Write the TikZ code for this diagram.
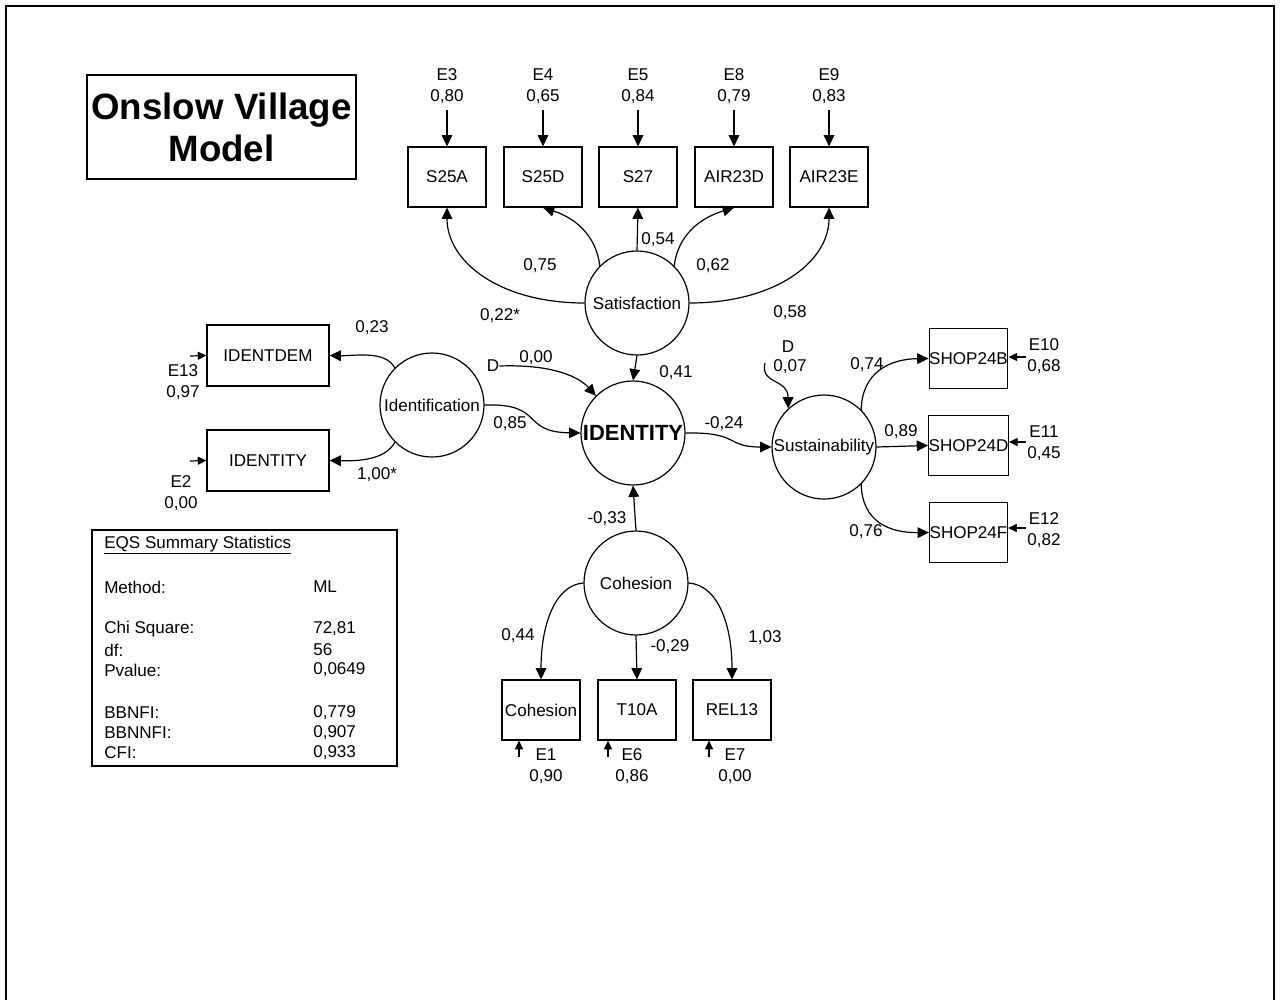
\documentclass[tikz,border=0pt]{standalone}
\usepackage{fontspec}
\setmainfont{Liberation Sans}
\usetikzlibrary{arrows.meta}
\begin{document}
\begin{tikzpicture}[x=0.75pt,y=-0.75pt,
 font=\fontsize{12.8}{15.5}\selectfont,
 lat/.style={circle,draw,line width=0.9pt,minimum size=78pt,inner sep=0pt},
 obs/.style={rectangle,draw,line width=0.9pt,minimum width=58.5pt,minimum height=45pt,inner sep=0pt},
 wide/.style={obs,minimum width=91.5pt,minimum height=45.75pt},
 lbl/.style={inner sep=0pt},
 err/.style={inner sep=0pt,align=center},
 arr/.style={draw,line width=0.9pt,-{Triangle[length=8.5pt,width=8pt]}},
 sarr/.style={draw,line width=0.9pt,-{Triangle[length=6.5pt,width=6pt]}},
 stat/.style={inner sep=0pt,anchor=west}
]
\useasboundingbox (0,0) rectangle (1280,1000);
% outer frame
\draw[line width=1.5pt] (6,1000) -- (6,6) -- (1274,6) -- (1274,1000);

% title
\node[draw,line width=0.9pt,minimum width=201.75pt,minimum height=78pt,inner sep=0pt,align=center,
  font=\fontsize{27.5}{31.5}\selectfont\bfseries] (title) at (221.5,127) {Onslow Village\\Model};

% Satisfaction block
\node[lat] (sat) at (637,303) {Satisfaction};
\node[obs] (s25a) at (447,177) {S25A};
\node[obs] (s25d) at (543,177) {S25D};
\node[obs] (s27) at (638,177) {S27};
\node[obs] (air23d) at (734,177) {AIR23D};
\node[obs] (air23e) at (829,177) {AIR23E};

\node[err] (e3) at (447,86) {E3\\0,80};
\node[err] (e4) at (543,86) {E4\\0,65};
\node[err] (e5) at (638,86) {E5\\0,84};
\node[err] (e8) at (734,86) {E8\\0,79};
\node[err] (e9) at (829,86) {E9\\0,83};
\coordinate (e3s) at (447,110);
\coordinate (e4s) at (543,110);
\coordinate (e5s) at (638,110);
\coordinate (e8s) at (734,110);
\coordinate (e9s) at (829,110);
\draw[arr] (e3s) -- (s25a.north);
\draw[arr] (e4s) -- (s25d.north);
\draw[arr] (e5s) -- (s27.north);
\draw[arr] (e8s) -- (air23d.north);
\draw[arr] (e9s) -- (air23e.north);

\draw[arr] (sat.west) .. controls (500,303) and (447,262) .. (s25a.south);
\draw[arr] (sat.135) .. controls (596,235) and (575,218) .. (s25d.south);
\draw[arr] (sat.north) -- (s27.south);
\draw[arr] (sat.45) .. controls (678,235) and (700,218) .. (air23d.south);
\draw[arr] (sat.east) .. controls (775,303) and (829,262) .. (air23e.south);

\node[lbl] at (540,266) {0,75};
\node[lbl] at (658,240) {0,54};
\node[lbl] at (713,266) {0,62};
\node[lbl] at (500,316) {0,22*};
\node[lbl] at (790,313) {0,58};

% IDENTITY
\node[lat,font=\fontsize{16.5}{18}\selectfont\bfseries] (ident) at (633,433) {IDENTITY};
\draw[arr] (sat.south) -- (ident.north);
\node[lbl] at (676,373) {0,41};

\node[lbl] (d1) at (493,366) {D};
\node[lbl] at (536,358) {0,00};
\draw[arr] (d1.east) .. controls (555,364) and (580,378) .. (ident.135);

% Identification
\node[lat] (idf) at (432,405) {Identification};
\node[wide] (identdem) at (268,355.5) {IDENTDEM};
\node[wide] (identity) at (268,460.5) {IDENTITY};
\draw[arr] (idf.east) .. controls (545,403) and (520,432) .. (ident.west);
\draw[arr] (idf.135) .. controls (385,350) and (355,356) .. (identdem.east);
\draw[arr] (idf.225) .. controls (385,461) and (355,461) .. (identity.east);
\node[lbl] at (510,424) {0,85};
\node[lbl] at (372,328) {0,23};
\node[lbl] at (377,475) {1,00*};

\coordinate (e13s) at (190,356);
\coordinate (e2s) at (190,461);
\draw[sarr] (e13s) -- (identdem.west);
\draw[sarr] (e2s) -- (identity.west);
\node[err] (e13) at (183,382) {E13\\0,97};
\node[err] (e2) at (181,493) {E2\\0,00};

% Sustainability
\node[lat] (sus) at (824,447) {Sustainability};
\draw[arr] (ident.east) .. controls (740,432) and (725,447) .. (sus.west);
\node[lbl] at (724,424) {-0,24};

\node[lbl] (d2) at (788,347) {D};
\node[lbl] at (790,367) {0,07};
\coordinate (d2s) at (765,363);
\draw[arr] (d2s) .. controls (760,385) and (788,378) .. (sus.133);

\node[obs] (shop24b) at (968.5,358.5) {SHOP24B};
\node[obs] (shop24d) at (968.5,445.5) {SHOP24D};
\node[obs] (shop24f) at (968.5,532.5) {SHOP24F};
\draw[arr] (sus.45) .. controls (862,372) and (890,359) .. (shop24b.west);
\draw[arr] (sus.east) -- (shop24d.west);
\draw[arr] (sus.-45) .. controls (862,522) and (890,533) .. (shop24f.west);
\node[lbl] at (867,365) {0,74};
\node[lbl] at (901,432) {0,89};
\node[lbl] at (866,532) {0,76};

\coordinate (e10s) at (1026,357);
\coordinate (e11s) at (1026,442);
\coordinate (e12s) at (1026,528);
\draw[sarr] (e10s) -- (e10s -| shop24b.east);
\draw[sarr] (e11s) -- (e11s -| shop24d.east);
\draw[sarr] (e12s) -- (e12s -| shop24f.east);
\node[err] (e10) at (1044,356) {E10\\0,68};
\node[err] (e11) at (1044,443) {E11\\0,45};
\node[err] (e12) at (1044,530) {E12\\0,82};

% Cohesion
\node[lat] (coh) at (636,583) {Cohesion};
\draw[arr] (coh.north) -- (ident.south);
\node[lbl] at (607,519) {-0,33};

\node[obs] (cohbox) at (541,710) {Cohesion};
\node[obs] (t10a) at (637,710) {T10A};
\node[obs] (rel13) at (732,710) {REL13};
\draw[arr] (coh.west) .. controls (555,585) and (541,625) .. (cohbox.north);
\draw[arr] (coh.south) -- (t10a.north);
\draw[arr] (coh.east) .. controls (718,585) and (732,625) .. (rel13.north);
\node[lbl] at (518,636) {0,44};
\node[lbl] at (670,647) {-0,29};
\node[lbl] at (765,638) {1,03};

\coordinate (e1s) at (519,757);
\coordinate (e6s) at (608,757);
\coordinate (e7s) at (709,757);
\draw[sarr] (e1s) -- (e1s |- cohbox.south);
\draw[sarr] (e6s) -- (e6s |- t10a.south);
\draw[sarr] (e7s) -- (e7s |- rel13.south);
\node[err] (e1) at (546,766) {E1\\0,90};
\node[err] (e6) at (632,766) {E6\\0,86};
\node[err] (e7) at (735,766) {E7\\0,00};

% EQS summary statistics
\node[draw,line width=0.9pt,minimum width=228.75pt,minimum height=177pt,inner sep=0pt] (eqs) at (244.5,648) {};
\node[stat] at (104,545) {\underline{EQS Summary Statistics}};
\node[stat] at (104,587) {Method:};
\node[stat] at (313,587) {ML};
\node[stat] at (104,629) {Chi Square:};
\node[stat] at (313,629) {72,81};
\node[stat] at (104,650) {df:};
\node[stat] at (313,650) {56};
\node[stat] at (104,670) {Pvalue:};
\node[stat] at (313,670) {0,0649};
\node[stat] at (104,713) {BBNFI:};
\node[stat] at (313,713) {0,779};
\node[stat] at (104,733) {BBNNFI:};
\node[stat] at (313,733) {0,907};
\node[stat] at (104,753) {CFI:};
\node[stat] at (313,753) {0,933};
\end{tikzpicture}
\end{document}
